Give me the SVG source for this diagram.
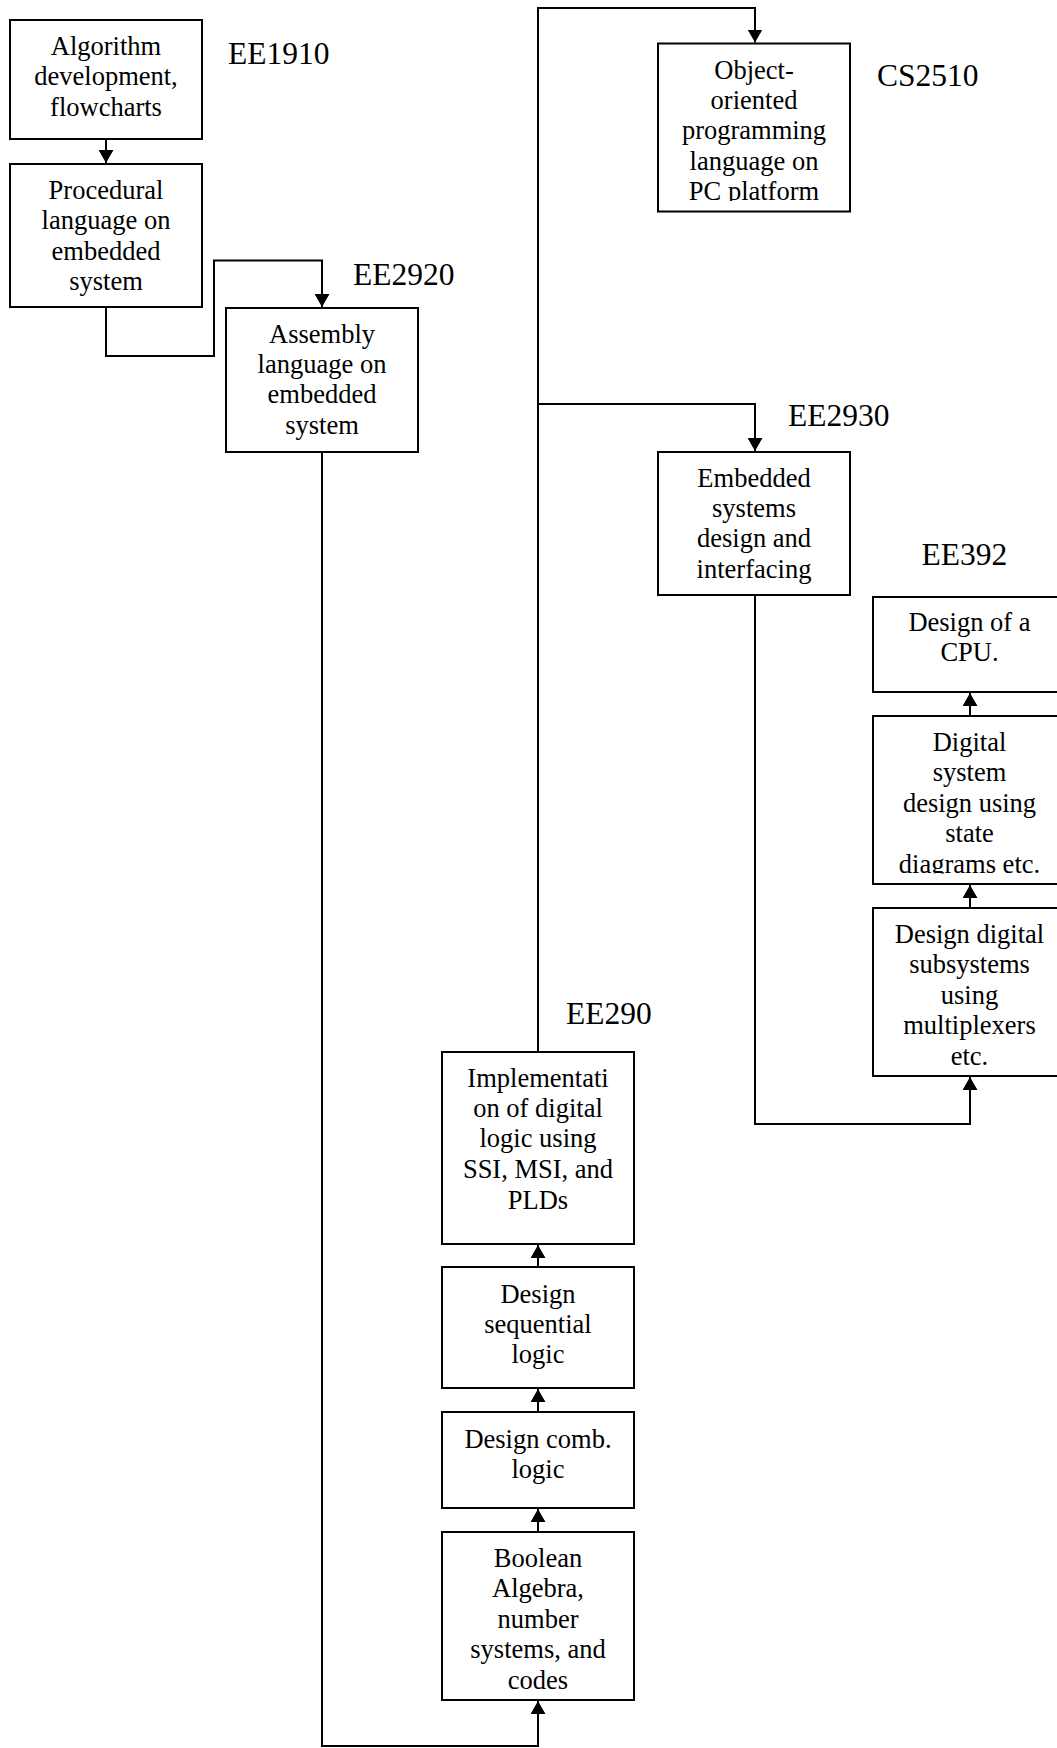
<svg xmlns="http://www.w3.org/2000/svg" width="1057" height="1748" viewBox="0 0 1057 1748">
<style>
.box{fill:#fff;stroke:#000;stroke-width:2}
.t{font-family:"Liberation Serif","Times New Roman",serif;font-size:26.5px;fill:#000;text-anchor:middle}
.lbl{font-family:"Liberation Serif","Times New Roman",serif;font-size:31.5px;fill:#000}
.c{fill:none;stroke:#000;stroke-width:2;marker-end:url(#arr)}
</style>
<defs>
<marker id="arr" viewBox="0 0 13 15" refX="13" refY="7.5" markerWidth="13" markerHeight="15" orient="auto" markerUnits="userSpaceOnUse">
<path d="M0,0 L13,7.5 L0,15 z" fill="#000"/>
</marker>
<clipPath id="clipObj"><rect x="650" y="40" width="210" height="161"/></clipPath>
<clipPath id="clipDig"><rect x="865" y="710" width="200" height="163.5"/></clipPath>
</defs>
<rect width="1057" height="1748" fill="#fff"/>
<g id="connectors">
<path class="c" d="M106,139 V163"/>
<path class="c" d="M106,307 V356 H214 V260.5 H322 V307"/>
<path class="c" d="M322,452 V1746 H538 V1701"/>
<path class="c" d="M538,1052 V8 H755 V42.5"/>
<path class="c" d="M538,404 H755 V451"/>
<path class="c" d="M755,595 V1124 H970 V1077"/>
<path class="c" d="M538,1267 V1245"/>
<path class="c" d="M538,1412 V1389"/>
<path class="c" d="M538,1532 V1509"/>
<path class="c" d="M970,908 V885"/>
<path class="c" d="M970,716 V693"/>
</g>
<g id="n1">
<rect class="box" x="10" y="20" width="192" height="119"/>
<text class="t" x="106" y="55">Algorithm</text>
<text class="t" x="106" y="85.4">development,</text>
<text class="t" x="106" y="115.8">flowcharts</text>
</g>
<g id="n2">
<rect class="box" x="10" y="164" width="192" height="143"/>
<text class="t" x="106" y="199">Procedural</text>
<text class="t" x="106" y="229">language on</text>
<text class="t" x="106" y="259.5">embedded</text>
<text class="t" x="106" y="289.5">system</text>
</g>
<g id="n3">
<rect class="box" x="226" y="308" width="192" height="144"/>
<text class="t" x="322" y="342.5">Assembly</text>
<text class="t" x="322" y="373">language on</text>
<text class="t" x="322" y="403.3">embedded</text>
<text class="t" x="322" y="433.7">system</text>
</g>
<g id="n4">
<rect class="box" x="658" y="43.5" width="192" height="168"/>
<g clip-path="url(#clipObj)">
<text class="t" x="754" y="78.5">Object-</text>
<text class="t" x="754" y="109">oriented</text>
<text class="t" x="754" y="139.3">programming</text>
<text class="t" x="754" y="169.7">language on</text>
<text class="t" x="754" y="200">PC platform</text>
</g>
</g>
<g id="n5">
<rect class="box" x="658" y="452" width="192" height="143"/>
<text class="t" x="754" y="486.5">Embedded</text>
<text class="t" x="754" y="517">systems</text>
<text class="t" x="754" y="547.3">design and</text>
<text class="t" x="754" y="577.7">interfacing</text>
</g>
<g id="n6">
<rect class="box" x="873" y="597" width="193" height="95"/>
<text class="t" x="969.5" y="630.5">Design of a</text>
<text class="t" x="969.5" y="661">CPU.</text>
</g>
<g id="n7">
<rect class="box" x="873" y="716" width="193" height="168"/>
<g clip-path="url(#clipDig)">
<text class="t" x="969.5" y="751">Digital</text>
<text class="t" x="969.5" y="781.4">system</text>
<text class="t" x="969.5" y="811.8">design using</text>
<text class="t" x="969.5" y="842.2">state</text>
<text class="t" x="969.5" y="872.6">diagrams etc.</text>
</g>
</g>
<g id="n8">
<rect class="box" x="873" y="908" width="193" height="168"/>
<text class="t" x="969.5" y="943">Design digital</text>
<text class="t" x="969.5" y="973.4">subsystems</text>
<text class="t" x="969.5" y="1003.8">using</text>
<text class="t" x="969.5" y="1034.2">multiplexers</text>
<text class="t" x="969.5" y="1064.6">etc.</text>
</g>
<g id="n9">
<rect class="box" x="442" y="1052" width="192" height="192"/>
<text class="t" x="538" y="1086.5">Implementati</text>
<text class="t" x="538" y="1117">on of digital</text>
<text class="t" x="538" y="1147.3">logic using</text>
<text class="t" x="538" y="1177.7">SSI, MSI, and</text>
<text class="t" x="538" y="1208.5">PLDs</text>
</g>
<g id="n10">
<rect class="box" x="442" y="1267" width="192" height="121"/>
<text class="t" x="538" y="1302.5">Design</text>
<text class="t" x="538" y="1332.9">sequential</text>
<text class="t" x="538" y="1363.3">logic</text>
</g>
<g id="n11">
<rect class="box" x="442" y="1412" width="192" height="96"/>
<text class="t" x="538" y="1447.5">Design comb.</text>
<text class="t" x="538" y="1477.7">logic</text>
</g>
<g id="n12">
<rect class="box" x="442" y="1532" width="192" height="168"/>
<text class="t" x="538" y="1567">Boolean</text>
<text class="t" x="538" y="1597.4">Algebra,</text>
<text class="t" x="538" y="1627.8">number</text>
<text class="t" x="538" y="1658.2">systems, and</text>
<text class="t" x="538" y="1688.6">codes</text>
</g>
<g id="labels">
<text class="lbl" x="228" y="64">EE1910</text>
<text class="lbl" x="353" y="285">EE2920</text>
<text class="lbl" x="877" y="86">CS2510</text>
<text class="lbl" x="788" y="426">EE2930</text>
<text class="lbl" x="921.5" y="565">EE392</text>
<text class="lbl" x="566" y="1023.5">EE290</text>
</g>
</svg>
